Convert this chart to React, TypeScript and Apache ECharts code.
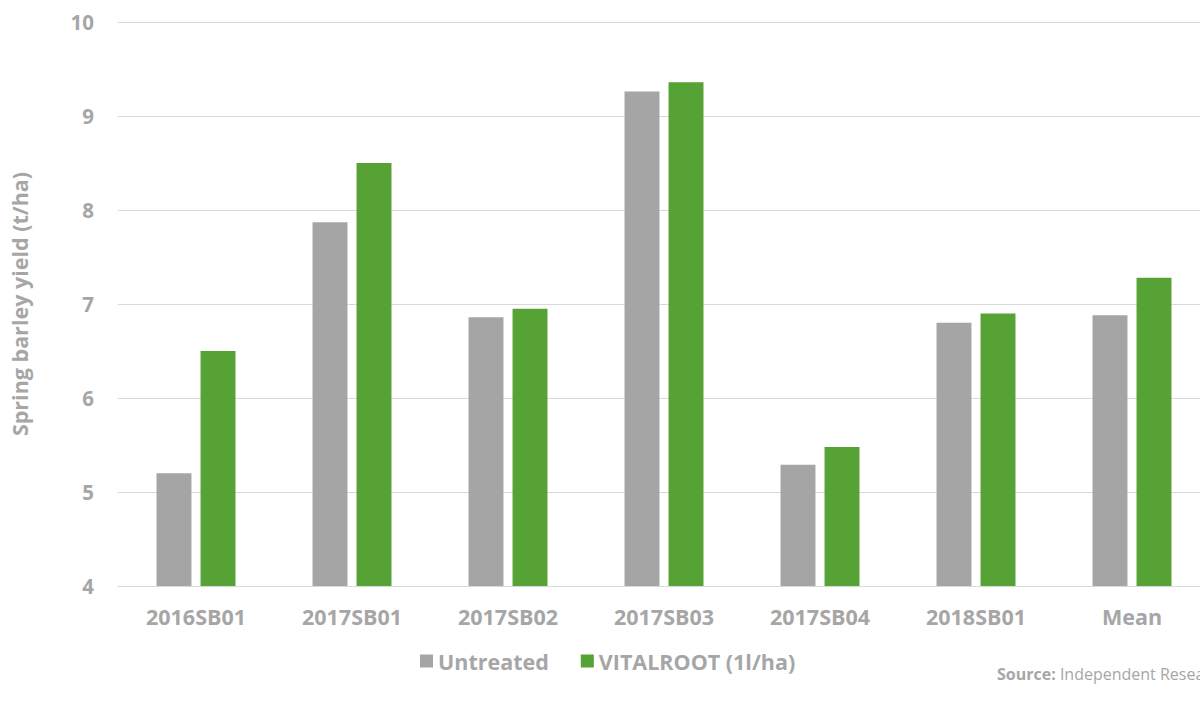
import React, { useEffect, useRef } from "react";
import * as echarts from "echarts";

const categories = ["2016SB01", "2017SB01", "2017SB02", "2017SB03", "2017SB04", "2018SB01", "Mean"];
const untreated = [5.2, 7.87, 6.86, 9.26, 5.29, 6.8, 6.88];
const vitalroot = [6.5, 8.5, 6.95, 9.36, 5.48, 6.9, 7.28];
const yTicks = { min: 4, max: 10, interval: 1 };

const FONT = "'Open Sans', 'Noto Sans', sans-serif";
const TEXT = "#a6a6a6";

export default function App() {
  const ref = useRef<HTMLDivElement>(null);
  useEffect(() => {
    if (!ref.current) return;
    const chart = echarts.init(ref.current, undefined, { renderer: "svg" });
    chart.setOption({
      animation: false,
      textStyle: { fontFamily: FONT },
      grid: { left: 117, right: 0, top: 22, bottom: 119, containLabel: false },
      legend: {
        left: 415,
        top: 645,
        icon: "rect",
        itemWidth: 13,
        itemHeight: 13,
        itemGap: 32,
        textStyle: { color: TEXT, fontSize: 21.5, fontWeight: "bold", fontFamily: FONT },
        data: ["Untreated", "VITALROOT (1l/ha)"],
      },
      xAxis: {
        type: "category",
        data: categories,
        axisLine: { show: true, lineStyle: { color: "#d9d9d9", width: 1 } },
        axisTick: { show: false },
        axisLabel: { color: TEXT, fontSize: 21.5, fontWeight: "bold", margin: 19, fontFamily: FONT },
      },
      yAxis: {
        type: "value",
        min: yTicks.min,
        max: yTicks.max,
        interval: yTicks.interval,
        name: "Spring barley yield (t/ha)",
        nameLocation: "middle",
        nameGap: 88,
        nameTextStyle: { color: TEXT, fontSize: 21.5, fontWeight: "bold", fontFamily: FONT, padding: [0, 0, 0, 0] },
        axisLine: { show: false },
        axisTick: { show: false },
        axisLabel: { color: TEXT, fontSize: 20.5, fontWeight: "bold", margin: 24, fontFamily: FONT },
        splitLine: { lineStyle: { color: "#d9d9d9", width: 1 } },
      },
      series: [
        {
          name: "Untreated",
          type: "bar",
          data: untreated,
          barWidth: "22.4%",
          barGap: "26%",
          itemStyle: { color: "#a5a5a5" },
        },
        {
          name: "VITALROOT (1l/ha)",
          type: "bar",
          data: vitalroot,
          barWidth: "22.4%",
          itemStyle: { color: "#57a234" },
        },
      ],
      graphic: [
        {
          type: "text",
          left: 997,
          top: 666,
          style: {
            text: "{b|Source:} Independent Research",
            fill: TEXT,
            fontSize: 16,
            fontFamily: FONT,
            rich: {
              b: { fontWeight: "bold", fontSize: 16, fill: TEXT, fontFamily: FONT },
            },
          },
        },
      ],
    });
    return () => chart.dispose();
  }, []);
  return (
    <div style={{ position: "fixed", left: 0, top: 0, width: 1200, height: 705, overflow: "hidden", background: "#fff" }}>
      <div ref={ref} style={{ position: "absolute", left: 0, top: 0, width: 1210, height: 705 }} />
    </div>
  );
}
